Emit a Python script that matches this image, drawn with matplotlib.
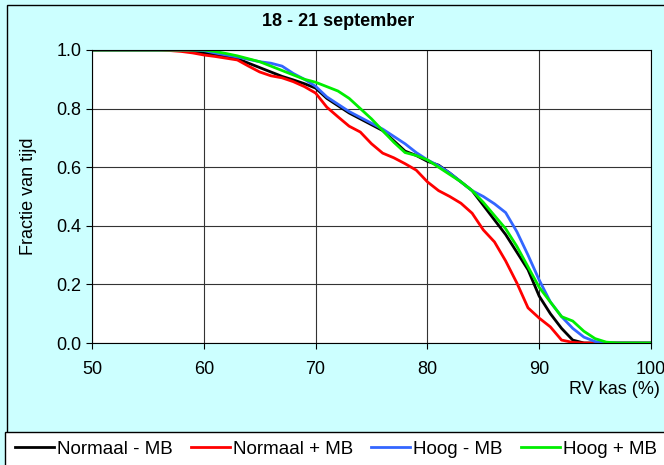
import matplotlib.pyplot as plt
from matplotlib.patches import Rectangle
import numpy as np

plt.rcParams['font.family'] = ['Liberation Sans', 'DejaVu Sans']

# Data
rv = list(range(50, 101))
normaal_min = [1.0] * 8 + [0.998, 0.995, 0.99, 0.985, 0.978, 0.97, 0.955, 0.94, 0.925, 0.91,
               0.898, 0.885, 0.87, 0.835, 0.81, 0.785, 0.765, 0.745, 0.725, 0.69, 0.655, 0.64,
               0.62, 0.607, 0.58, 0.55, 0.52, 0.47, 0.42, 0.37, 0.31, 0.25, 0.16, 0.1, 0.05,
               0.01] + [0.0] * 7
normaal_plus = [1.0] * 7 + [0.998, 0.995, 0.99, 0.983, 0.978, 0.972, 0.966, 0.945, 0.925,
                0.912, 0.905, 0.892, 0.875, 0.853, 0.805, 0.772, 0.74, 0.72, 0.68, 0.648,
                0.632, 0.612, 0.59, 0.55, 0.52, 0.5, 0.477, 0.443, 0.386, 0.345, 0.28, 0.205,
                0.12, 0.085, 0.055, 0.01, 0.002] + [0.0] * 7
hoog_min = [1.0] * 10 + [0.998, 0.99, 0.983, 0.976, 0.968, 0.96, 0.955, 0.945, 0.92, 0.9,
            0.876, 0.84, 0.815, 0.79, 0.77, 0.75, 0.73, 0.705, 0.68, 0.65, 0.625, 0.605, 0.58,
            0.55, 0.52, 0.5, 0.475, 0.445, 0.38, 0.3, 0.215, 0.14, 0.09, 0.05, 0.02, 0.005] + [0.0] * 5
hoog_plus = [1.0] * 11 + [0.995, 0.988, 0.98, 0.97, 0.96, 0.945, 0.93, 0.915, 0.9, 0.89,
             0.875, 0.86, 0.835, 0.8, 0.765, 0.725, 0.685, 0.65, 0.64, 0.625, 0.6, 0.575,
             0.55, 0.52, 0.48, 0.435, 0.39, 0.33, 0.26, 0.19, 0.14, 0.09, 0.075, 0.04, 0.015,
             0.003] + [0.0] * 4

labels = ['Normaal - MB', 'Normaal + MB', 'Hoog - MB', 'Hoog + MB']
kleuren = ['black', '#ff0000', '#3366ff', '#00ee00']

fig = plt.figure(figsize=(6.64, 4.65), dpi=100, facecolor='#ccffff')
ax = fig.add_axes([92 / 664, 1 - 343 / 465, (651 - 92) / 664, (343 - 50) / 465])

for serie, lab, kl in zip([normaal_min, normaal_plus, hoog_min, hoog_plus], labels, kleuren):
    ax.plot(rv, serie, color=kl, lw=2.0, label=lab)

ax.set_xlim(50, 100)
ax.set_ylim(0, 1)
ax.set_xticks(np.arange(50, 101, 10))
ax.set_yticks(np.arange(0, 1.01, 0.2))
ax.set_yticklabels(['%.1f' % v for v in np.arange(0, 1.01, 0.2)])
ax.tick_params(labelsize=13, length=4, color='black', direction='out')
ax.tick_params(axis='x', pad=9)
ax.grid(color='#333333', lw=0.8)
ax.set_axisbelow(True)
for s in ax.spines.values():
    s.set_color('black')
    s.set_linewidth(0.8)

ax.set_ylabel('Fractie van tijd', fontsize=13, labelpad=14)
fig.text(660 / 664, 1 - 389 / 465, 'RV kas (%)', fontsize=13, ha='right', va='center')
fig.text(338 / 664, 1 - 22 / 465, '18 - 21 september', fontsize=13, fontweight='bold',
         ha='center', va='center')

# Kaders
fig.patches.append(Rectangle((7 / 664, -0.1), 1.2, 1 - 5 / 465 + 0.1, transform=fig.transFigure,
                             fill=False, edgecolor='black', lw=1))
fig.patches.append(Rectangle((5 / 664, -0.1), 1.2, 33 / 465 + 0.1, transform=fig.transFigure,
                             facecolor='white', edgecolor='black', lw=1))

fig.legend(loc='center left', bbox_to_anchor=(15 / 664, 1 - 449 / 465), ncol=4, frameon=False,
           fontsize=13.5, handlelength=2.1, handletextpad=0.15, columnspacing=0.95, borderpad=0,
           borderaxespad=0)

plt.savefig('out.png', dpi=100, facecolor=fig.get_facecolor())
